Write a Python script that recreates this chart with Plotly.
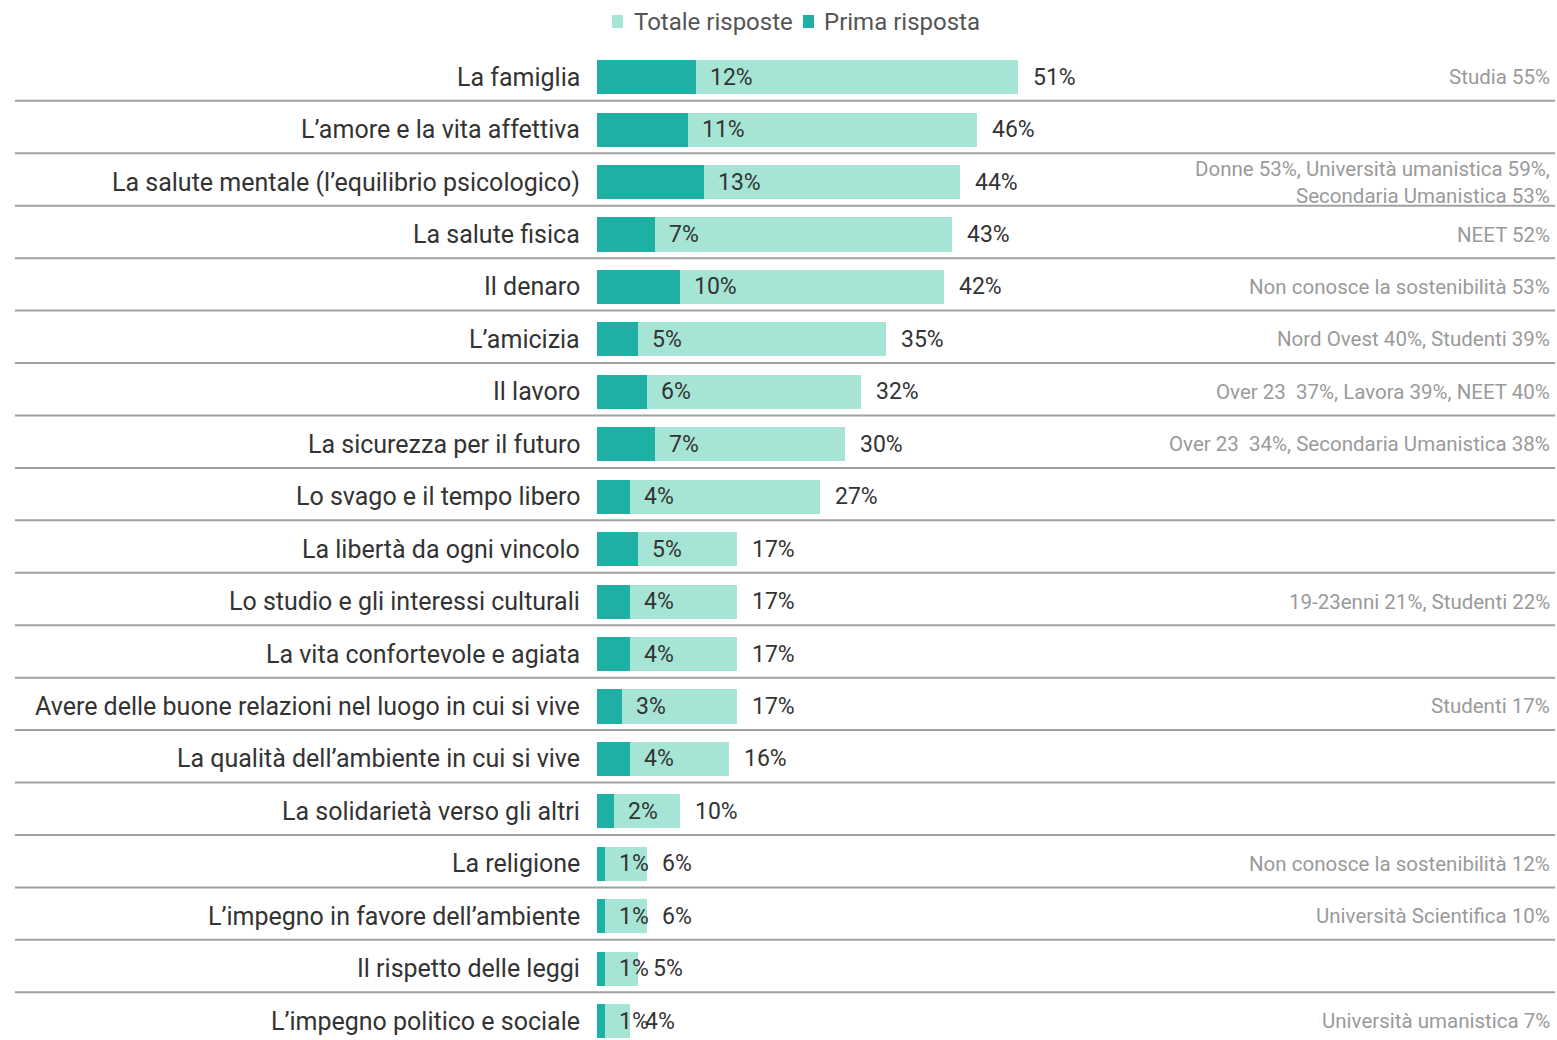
import plotly.graph_objects as go

categories = [
    "La famiglia",
    "L’amore e la vita affettiva",
    "La salute mentale (l’equilibrio psicologico)",
    "La salute fisica",
    "Il denaro",
    "L’amicizia",
    "Il lavoro",
    "La sicurezza per il futuro",
    "Lo svago e il tempo libero",
    "La libertà da ogni vincolo",
    "Lo studio e gli interessi culturali",
    "La vita confortevole e agiata",
    "Avere delle buone relazioni nel luogo in cui si vive",
    "La qualità dell’ambiente in cui si vive",
    "La solidarietà verso gli altri",
    "La religione",
    "L’impegno in favore dell’ambiente",
    "Il rispetto delle leggi",
    "L’impegno politico e sociale",
]
totale = [51, 46, 44, 43, 42, 35, 32, 30, 27, 17, 17, 17, 17, 16, 10, 6, 6, 5, 4]
prima = [12, 11, 13, 7, 10, 5, 6, 7, 4, 5, 4, 4, 3, 4, 2, 1, 1, 1, 1]
notes = [
    "Studia 55%",
    "",
    "Donne 53%, Università umanistica 59%,<br>Secondaria Umanistica 53%",
    "NEET 52%",
    "Non conosce la sostenibilità 53%",
    "Nord Ovest 40%, Studenti 39%",
    "Over 23  37%, Lavora 39%, NEET 40%",
    "Over 23  34%, Secondaria Umanistica 38%",
    "",
    "",
    "19-23enni 21%, Studenti 22%",
    "",
    "Studenti 17%",
    "",
    "",
    "Non conosce la sostenibilità 12%",
    "Università Scientifica 10%",
    "",
    "Università umanistica 7%",
]
legend_names = ["Totale risposte", "Prima risposta"]

LIGHT = "#a6e5d5"
DARK = "#1fb0a5"
TXT = "#333333"
FONT = "Roboto"

idx = list(range(len(categories)))

fig = go.Figure()
fig.add_trace(go.Bar(
    y=idx, x=totale, orientation="h", name=legend_names[0],
    marker=dict(color=LIGHT, line=dict(width=0)), width=0.65,
    hoverinfo="skip", showlegend=False,
))
fig.add_trace(go.Bar(
    y=idx, x=prima, orientation="h", name=legend_names[1],
    marker=dict(color=DARK, line=dict(width=0)), width=0.65,
    hoverinfo="skip", showlegend=False,
))

annotations = []
for i, (c, t, p, n) in enumerate(zip(categories, totale, prima, notes)):
    annotations.append(dict(x=0, y=i, xref="x", yref="y", text=c, showarrow=False,
                            xanchor="right", yanchor="middle", xshift=-15,
                            font=dict(family=FONT, size=25, color=TXT)))
    annotations.append(dict(x=p, y=i, xref="x", yref="y", text=f"{p}%", showarrow=False,
                            xanchor="left", yanchor="middle", xshift=12,
                            font=dict(family=FONT, size=23, color=TXT)))
    annotations.append(dict(x=t, y=i, xref="x", yref="y", text=f"{t}%", showarrow=False,
                            xanchor="left", yanchor="middle", xshift=13,
                            font=dict(family=FONT, size=23, color=TXT)))
    if n:
        annotations.append(dict(x=1, y=i, xref="paper", yref="y", text=n, showarrow=False,
                                xanchor="right", yanchor="middle", align="right",
                                font=dict(family=FONT, size=20.5, color="#9a9a9a")))

shapes = []
for i in range(len(categories) - 1):
    shapes.append(dict(type="line", xref="paper", yref="y", x0=-0.002, x1=1.002,
                       y0=i + 0.45, y1=i + 0.45, line=dict(color="#a0a0a0", width=2)))

# custom legend (plot area: 1534 px wide starting at x=18; 989 px tall starting at y=51)
def px_x(px):
    return (px - 18) / 1534

def px_y(py):
    return 1 - (py - 51) / 989

for name, color, mx, tx in [(legend_names[0], LIGHT, 612, 632), (legend_names[1], DARK, 803, 822)]:
    shapes.append(dict(type="rect", xref="paper", yref="paper",
                       x0=px_x(mx), x1=px_x(mx + 11), y0=px_y(28), y1=px_y(15),
                       fillcolor=color, line=dict(width=0)))
    annotations.append(dict(x=px_x(tx), y=px_y(22), xref="paper", yref="paper", text=name,
                            showarrow=False, xanchor="left", yanchor="middle",
                            font=dict(family=FONT, size=24, color="#555555")))

fig.update_layout(
    width=1557, height=1040,
    margin=dict(l=18, r=5, t=51, b=0),
    paper_bgcolor="white", plot_bgcolor="white",
    barmode="overlay",
    bargap=0,
    showlegend=False,
    xaxis=dict(range=[-70.2, 115.76], visible=False, fixedrange=True),
    yaxis=dict(range=[18.36, -0.5], visible=False, fixedrange=True),
    annotations=annotations,
    shapes=shapes,
    font=dict(family=FONT),
)

fig.write_html(
    "out.html",
    config={"displayModeBar": False},
    post_script="document.body.style.margin='0';document.body.style.overflow='hidden';",
)
